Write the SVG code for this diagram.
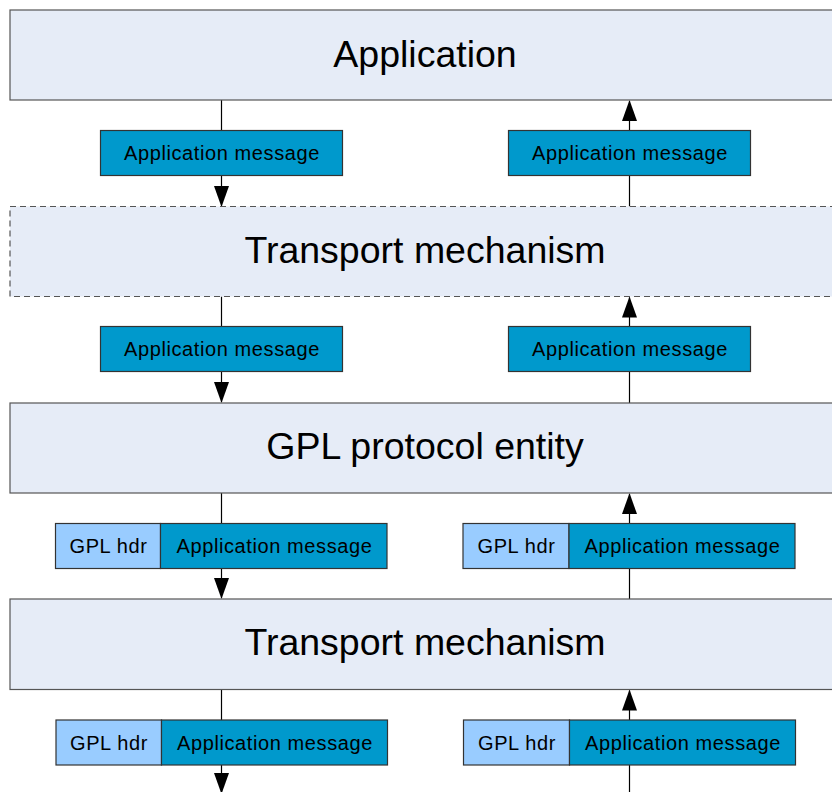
<svg xmlns="http://www.w3.org/2000/svg" width="832" height="792" viewBox="0 0 832 792">
<style>
.layer{fill:#e6ecf7;stroke:#555;stroke-width:1.2}
.dash{stroke-dasharray:6 4}
.msg{fill:#0099cc;stroke:#333;stroke-width:1.2}
.hdr{fill:#99ccff;stroke:#333;stroke-width:1.2}
.big{font-family:"Liberation Sans",Arial,sans-serif;font-size:37.5px;fill:#000;text-anchor:middle}
.small{font-family:"Liberation Sans",Arial,sans-serif;font-size:20px;letter-spacing:0.6px;fill:#000;text-anchor:middle}
.conn{stroke:#000;stroke-width:1.2;fill:none}
</style>
<defs>
<marker id="ah" markerUnits="userSpaceOnUse" markerWidth="21" markerHeight="15" refX="20" refY="7.5" orient="auto" viewBox="0 0 21 15">
<path d="M0,0 L21,7.5 L0,15 Z" fill="#000"/>
</marker>
</defs>
<g id="connectors">
<line class="conn" x1="221.5" y1="100" x2="221.5" y2="206" marker-end="url(#ah)"/>
<line class="conn" x1="629.5" y1="206.5" x2="629.5" y2="101" marker-end="url(#ah)"/>
<line class="conn" x1="221.5" y1="296.5" x2="221.5" y2="402" marker-end="url(#ah)"/>
<line class="conn" x1="629.5" y1="403" x2="629.5" y2="297.5" marker-end="url(#ah)"/>
<line class="conn" x1="221.5" y1="493" x2="221.5" y2="598" marker-end="url(#ah)"/>
<line class="conn" x1="629.5" y1="599" x2="629.5" y2="494" marker-end="url(#ah)"/>
<line class="conn" x1="221.5" y1="689.5" x2="221.5" y2="793" marker-end="url(#ah)"/>
<line class="conn" x1="629.5" y1="795" x2="629.5" y2="690.5" marker-end="url(#ah)"/>
</g>
<g id="application">
<rect class="layer" x="10" y="10" width="830" height="90"/>
<text class="big" x="425" y="67">Application</text>
</g>
<g id="transport1">
<rect class="layer dash" x="10" y="206.5" width="830" height="90"/>
<text class="big" x="425" y="263">Transport mechanism</text>
</g>
<g id="gpl">
<rect class="layer" x="10" y="403" width="830" height="90"/>
<text class="big" x="425" y="459">GPL protocol entity</text>
</g>
<g id="transport2">
<rect class="layer" x="10" y="599" width="830" height="90.5"/>
<text class="big" x="425" y="655">Transport mechanism</text>
</g>
<g id="msg1-left">
<rect class="msg" x="100.5" y="130.5" width="242" height="45"/>
<text class="small" x="222" y="160">Application message</text>
</g>
<g id="msg1-right">
<rect class="msg" x="508.5" y="130.5" width="242" height="45"/>
<text class="small" x="630" y="160">Application message</text>
</g>
<g id="msg2-left">
<rect class="msg" x="100.5" y="326.5" width="242" height="45"/>
<text class="small" x="222" y="356">Application message</text>
</g>
<g id="msg2-right">
<rect class="msg" x="508.5" y="326.5" width="242" height="45"/>
<text class="small" x="630" y="356">Application message</text>
</g>
<g id="msg3-left">
<rect class="hdr" x="55.5" y="523.5" width="105" height="45"/>
<rect class="msg" x="160.5" y="523.5" width="226.5" height="45"/>
<text class="small" x="108.5" y="553">GPL hdr</text>
<text class="small" x="274.5" y="553">Application message</text>
</g>
<g id="msg3-right">
<rect class="hdr" x="463" y="523.5" width="106" height="45"/>
<rect class="msg" x="569" y="523.5" width="226" height="45"/>
<text class="small" x="516.5" y="553">GPL hdr</text>
<text class="small" x="682.5" y="553">Application message</text>
</g>
<g id="msg4-left">
<rect class="hdr" x="56" y="720" width="105.5" height="45"/>
<rect class="msg" x="161.5" y="720" width="226" height="45"/>
<text class="small" x="109" y="749.5">GPL hdr</text>
<text class="small" x="275" y="749.5">Application message</text>
</g>
<g id="msg4-right">
<rect class="hdr" x="463.5" y="720" width="106" height="45"/>
<rect class="msg" x="569.5" y="720" width="226" height="45"/>
<text class="small" x="517" y="749.5">GPL hdr</text>
<text class="small" x="683" y="749.5">Application message</text>
</g>
</svg>
